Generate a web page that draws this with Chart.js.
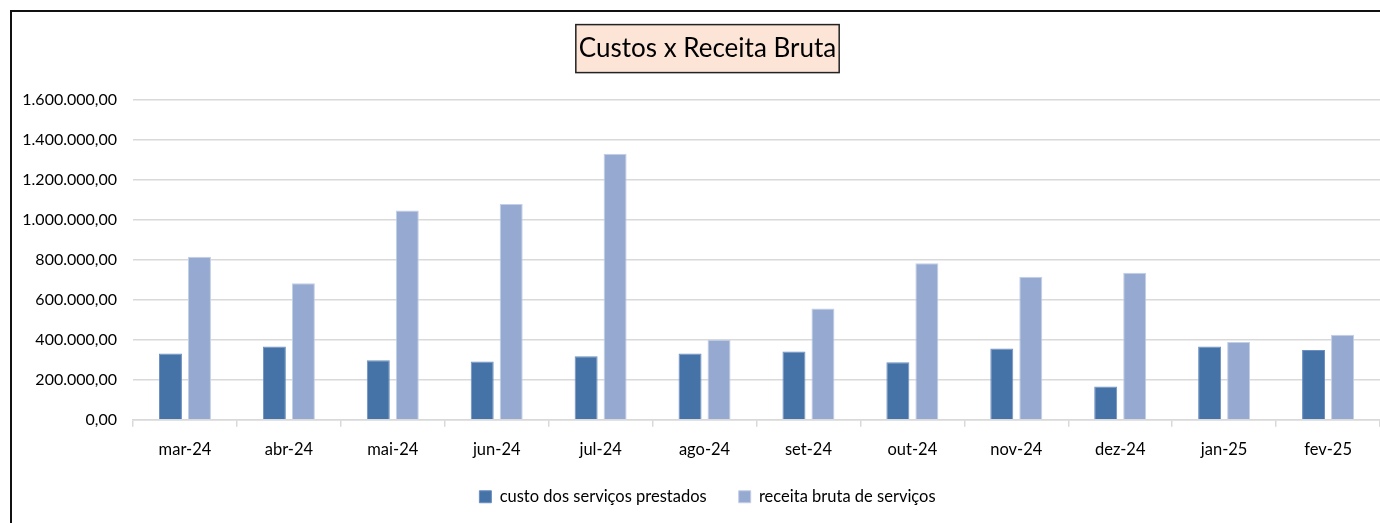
<!DOCTYPE html>
<html>
<head>
<meta charset="utf-8">
<script src="https://cdn.jsdelivr.net/npm/chart.js@4"></script>
<style>
  body { margin: 0; background: #fff; }
  #frame { position: absolute; left: 10px; top: 10px; width: 1400px; height: 520px;
           border-left: 2px solid #111; border-top: 2px solid #111; }
  #wrap { position: absolute; left: 0; top: 0; width: 1380px; height: 523px; }
</style>
</head>
<body>
<div id="frame"></div>
<div id="wrap"><canvas id="chart"></canvas></div>
<script>
const months = ['mar-24', 'abr-24', 'mai-24', 'jun-24', 'jul-24', 'ago-24', 'set-24', 'out-24', 'nov-24', 'dez-24', 'jan-25', 'fev-25'];
const custos = [332000, 366000, 298000, 292000, 318000, 332000, 342000, 288000, 356000, 166000, 367000, 349000];
const receita = [816000, 683000, 1048000, 1080000, 1332000, 401000, 557000, 783000, 716000, 736000, 389000, 426000];
const yTicks = [0, 200000, 400000, 600000, 800000, 1000000, 1200000, 1400000, 1600000];

const FONT = 'Lato, "Open Sans", sans-serif';

// 1600000 -> "1.600.000,00"
function brl(v) {
  const s = String(Math.round(v));
  return s.replace(/\B(?=(\d{3})+(?!\d))/g, '.') + ',00';
}

// peach box behind the title
const titleBox = {
  id: 'titleBox',
  afterLayout(chart) {
    // labels are clipped to their scale box, let them spill out
    chart.scales.y.left = 0;
    chart.scales.x.bottom = chart.height;
  },
  beforeDraw(chart) {
    const t = chart.titleBlock;
    if (!t) return;
    const ctx = chart.ctx;
    const opts = chart.options.plugins.title;
    ctx.save();
    ctx.font = opts.font.size + 'px ' + opts.font.family;
    const w = ctx.measureText(opts.text).width + 6;
    const h = 48;
    const cx = (t.left + t.right) / 2;
    const cy = t.top + opts.padding.top + opts.font.size * 1.2 / 2;
    ctx.fillStyle = '#fce4d6';
    ctx.strokeStyle = '#222';
    ctx.lineWidth = 1.5;
    ctx.fillRect(cx - w / 2, cy - h / 2, w, h);
    ctx.strokeRect(cx - w / 2, cy - h / 2, w, h);
    ctx.restore();
  }
};

new Chart(document.getElementById('chart'), {
  type: 'bar',
  data: {
    labels: months,
    datasets: [{
      label: 'custo dos serviços prestados',
      data: custos,
      backgroundColor: '#4673a7',
      borderColor: '#6b8fc0',
      borderWidth: 1,
      categoryPercentage: 0.558,
      barPercentage: 0.793
    }, {
      label: 'receita bruta de serviços',
      data: receita,
      backgroundColor: '#95a9d1',
      borderColor: '#c3cfe6',
      borderWidth: 1,
      categoryPercentage: 0.558,
      barPercentage: 0.793
    }]
  },
  options: {
    responsive: true,
    maintainAspectRatio: false,
    animation: false,
    layout: { padding: { left: 35, right: 0, top: 0, bottom: 8 } },
    plugins: {
      title: {
        display: true,
        text: 'Custos x Receita Bruta',
        color: '#000',
        font: { size: 26, family: FONT, weight: 'normal' },
        padding: { top: 33, bottom: 36 }
      },
      legend: {
        position: 'bottom',
        labels: {
          boxWidth: 12,
          boxHeight: 12,
          padding: 32,
          color: '#000',
          font: { size: 16.5, family: FONT }
        }
      },
      tooltip: { enabled: false }
    },
    scales: {
      x: {
        afterFit(scale) { scale.height -= 16; },
        grid: { drawOnChartArea: false, tickLength: 7, color: '#d9d9d9', lineWidth: 1.5 },
        border: { color: '#d9d9d9', width: 1.5 },
        ticks: { color: '#000', padding: 13, font: { size: 16.5, family: FONT } }
      },
      y: {
        min: 0,
        max: 1600000,
        afterFit(scale) { scale.width = 98; },
        afterBuildTicks(scale) { scale.ticks = yTicks.map(v => ({ value: v })); },
        grid: { drawTicks: false, color: '#d9d9d9', lineWidth: 1.5 },
        border: { display: false },
        ticks: {
          color: '#000',
          padding: 16,
          font: { size: 16, family: FONT },
          callback: v => brl(v)
        }
      }
    }
  },
  plugins: [titleBox]
});
</script>
</body>
</html>
